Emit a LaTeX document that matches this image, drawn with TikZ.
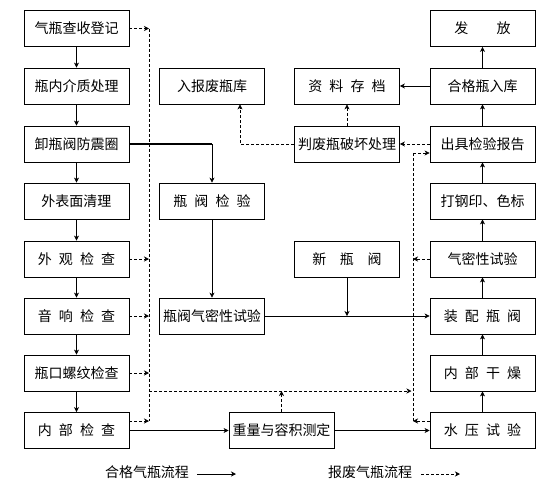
\documentclass[tikz,border=0pt]{standalone}
\usepackage{fontspec}
\newfontfamily\cjk{Noto Sans CJK SC}
\usetikzlibrary{arrows.meta,calc}
\newcommand\xg{\hspace{0.51em}}
\begin{document}
\begin{tikzpicture}[x=1pt,y=-1pt,
  box/.style={draw, line width=0.8pt, minimum width=105pt, minimum height=36pt, inner sep=0pt,
    font=\cjk\fontsize{14}{16}\selectfont},
  lbl/.style={inner sep=0pt, font=\cjk\fontsize{14}{16}\selectfont},
  arr/.style={-{Stealth[length=5pt,width=5pt,inset=1.5pt]}, line width=0.7pt},
  darr/.style={arr, dash pattern=on 3pt off 2pt},
  dline/.style={line width=0.7pt, dash pattern=on 3pt off 2pt},
  sline/.style={line width=0.7pt},
  thickline/.style={line width=1.8pt}]
\useasboundingbox (0,0) rectangle (558,491);
% left column
\node[box] (b1) at (76.5,28.5) {气瓶查收登记};
\node[box] (b2) at (76.5,86) {瓶内介质处理};
\node[box] (b3) at (76.5,144) {卸瓶阀防震圈};
\node[box] (b4) at (76.5,201) {外表面清理};
\node[box] (b5) at (76.5,259) {外\xg 观\xg 检\xg 查};
\node[box] (b6) at (76.5,316) {音\xg 响\xg 检\xg 查};
\node[box] (b7) at (76.5,373) {瓶口螺纹检查};
\node[box] (b8) at (76.5,430.5) {内\xg 部\xg 检\xg 查};
% middle column
\node[box] (m2) at (212,86) {入报废瓶库};
\node[box] (m4) at (212,201) {瓶\xg 阀\xg 检\xg 验};
\node[box] (m6) at (212,316) {瓶阀气密性试验};
\node[box] (w) at (281.5,430.5) {重量与容积测定};
% right-middle column
\node[box] (q2) at (347,86) {资\xg 料\xg 存\xg 档};
\node[box] (q3) at (347,144) {判废瓶破坏处理};
\node[box] (n5) at (347,259) {新\hspace{0.98em}瓶\hspace{0.98em}阀};
% right column
\node[box] (r1) at (482.5,28.5) {发\hspace{2.03em}放};
\node[box] (r2) at (482.5,86) {合格瓶入库};
\node[box] (r3) at (482.5,144) {出具检验报告};
\node[box] (r4) at (482.5,201) {打钢印、色标};
\node[box] (r5) at (482.5,259) {气密性试验};
\node[box] (r6) at (482.5,316) {装\xg 配\xg 瓶\xg 阀};
\node[box] (r7) at (482.5,373) {内\xg 部\xg 干\xg 燥};
\node[box] (r8) at (482.5,430.5) {水\xg 压\xg 试\xg 验};
% solid flow, left column
\foreach \a/\b in {b1/b2,b2/b3,b3/b4,b4/b5,b5/b6,b6/b7,b7/b8}
  \draw[arr] (\a.south) -- (\b.south |- \b.north);
% right column upward
\foreach \a/\b in {r8/r7,r7/r6,r6/r5,r5/r4,r4/r3,r3/r2,r2/r1}
  \draw[arr] (\a.north) -- (\b.south);
\draw[arr] (r2.west) -- (q2.east);
% valve branch
\coordinate (tv) at (b3.east -| m4.north);
\draw[thickline] (b3.east) -- (tv);
\draw[arr] (tv) -- (m4.north);
\draw[arr] (m4.south) -- (m6.north);
\draw[arr] (m6.east) -- (m6.east -| r6.west);
\draw[arr] (n5.south) -- (n5.south |- m6.east);
\draw[arr] (b8.east) -- (w.west);
\draw[arr] (w.east) -- (r8.west);
% scrap flow (dashed)
\coordinate (LT) at (149,28.5);
\coordinate (LB) at (149,421);
\draw[dline] (LT) -- (LB);
\foreach \a in {b1,b5,b6,b7}
  \draw[darr] (\a.east) -- (\a.east -| LT);
\draw[darr] ([yshift=9.5pt]b8.east) -- (LB);
\coordinate (RT) at (413,153);
\coordinate (RB) at (413,421);
\draw[dline] (RB) -- (RT);
\draw[darr] (RT) -- (RT -| r3.west);
\draw[darr] (r5.west) -- (r5.west -| RT);
\draw[darr] ([yshift=9.5pt]r8.west) -- (RB);
\coordinate (HL) at (149,391);
\coordinate (HR) at (411.5,391);
\draw[darr] (HL) -- (HR);
\draw[darr] (w.north) -- (w.north |- HL);
\draw[darr] (r3.west) -- (q3.east);
\draw[darr] (q3.north) -- (q2.south);
\coordinate (sc) at ([xshift=28pt]m2.south);
\draw[darr] (q3.west) -- (q3.west -| sc) -- (sc);
% legend
\node[lbl] (leg1) at (147,472.5) {合格气瓶流程};
\coordinate (la1) at (197,474);
\coordinate (la2) at (236,474);
\draw[arr] (la1) -- (la2);
\node[lbl] (leg2) at (370,472.5) {报废气瓶流程};
\coordinate (lb1) at (421,474);
\coordinate (lb2) at (460,474);
\draw[darr] (lb1) -- (lb2);
\end{tikzpicture}
\end{document}
